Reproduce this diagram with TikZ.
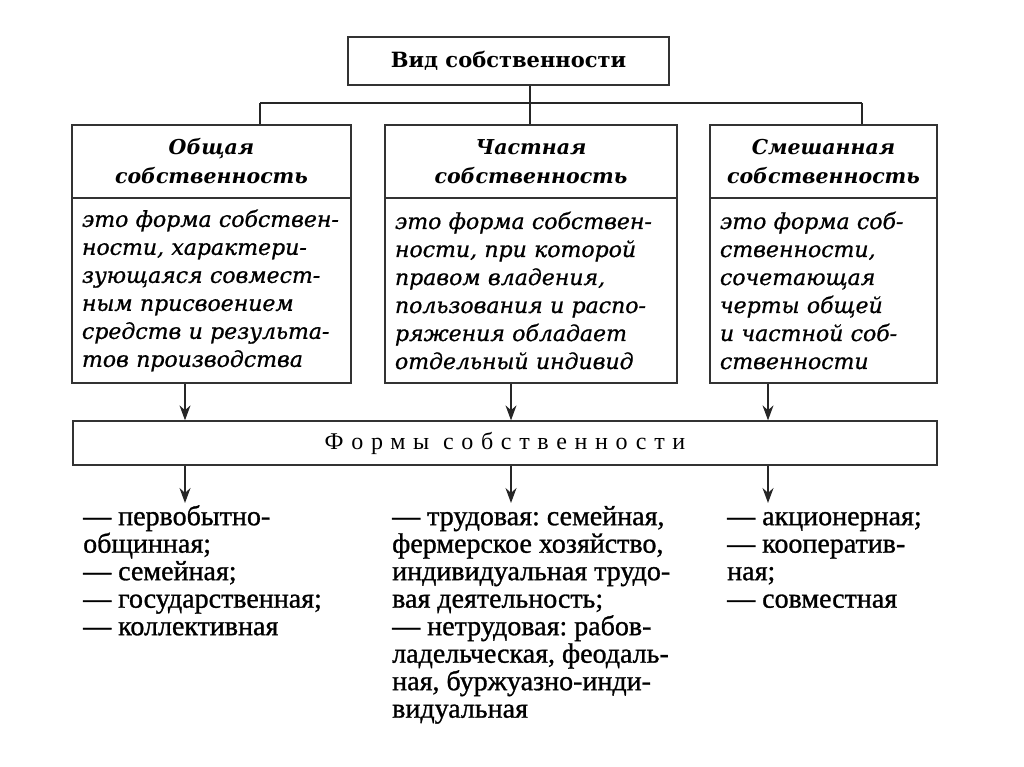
\documentclass[tikz,border=0pt]{standalone}
\usepackage{fontspec}
\setmainfont{DejaVu Serif}[ItalicFeatures={FakeBold=0.8}]
\newfontfamily\listfont{Liberation Serif}[FakeBold=1]
\newfontfamily\spacedfont[LetterSpace=32]{Liberation Serif}
\usetikzlibrary{arrows.meta}
\frenchspacing
\tikzstyle{vidbox} = [rectangle, draw=black!80, line width=1.3pt, minimum width=321pt, minimum height=48pt, font=\bfseries\fontsize{21}{24}\selectfont]
\tikzstyle{headbox} = [rectangle, draw=black!80, line width=1.3pt, minimum height=73pt, inner xsep=6pt, align=center, font=\bfseries\itshape\fontsize{20.5}{29}\selectfont]
\tikzstyle{bodybox} = [rectangle, draw=black!80, line width=1.3pt, minimum height=185pt, inner xsep=10pt, align=left, font=\itshape\fontsize{22}{28}\selectfont]
\tikzstyle{formsbox} = [rectangle, draw=black!80, line width=1.3pt, minimum width=864pt, minimum height=44pt, font=\spacedfont\fontsize{24}{26}\selectfont]
\tikzstyle{listtext} = [anchor=north west, inner sep=0pt, align=left, font=\listfont\fontsize{28}{27.5}\selectfont]
\tikzstyle{connector} = [line width=1.3pt, draw=black!85]
\tikzstyle{arrow} = [line width=1.3pt, draw=black!85, -{Stealth[length=15pt,width=11pt]}]
\newcommand{\topline}{\rule{0pt}{22pt}}

\begin{document}
\begin{tikzpicture}[node distance=129pt]
\useasboundingbox (0pt,0pt) rectangle (1024pt,-767pt);

\node (vid) [vidbox] at (508.5pt,-61pt) {Вид собственности};

\node (obsh) [headbox, text width=267pt] at (211.5pt,-161.5pt) {Общая\\собственность};
\node (obshdef) [bodybox, text width=259pt, below of=obsh] {это форма собствен-\\ности, характери-\\зующаяся совмест-\\ным присвоением\\средств и результа-\\тов производства};

\node (chast) [headbox, text width=280pt] at (531pt,-161.5pt) {Частная\\собственность};
\node (chastdef) [bodybox, text width=272pt, below of=chast] {это форма собствен-\\ности, при которой\\правом владения,\\пользования и распо-\\ряжения обладает\\отдельный индивид};

\node (smesh) [headbox, text width=215pt] at (823.5pt,-161.5pt) {Смешанная\\собственность};
\node (smeshdef) [bodybox, text width=207pt, below of=smesh] {это форма соб-\\ственности,\\сочетающая\\черты общей\\и частной соб-\\ственности};

\node (formy) [formsbox] at (505pt,-443pt) {Формы собственности};

\node (listL) [listtext] at (83pt,-503pt) {\topline— первобытно-\\общинная;\\— семейная;\\— государственная;\\— коллективная};
\node (listM) [listtext] at (392pt,-503pt) {\topline— трудовая: семейная,\\фермерское хозяйство,\\индивидуальная трудо-\\вая деятельность;\\— нетрудовая: рабов-\\ладельческая, феодаль-\\ная, буржуазно-инди-\\видуальная};
\node (listR) [listtext] at (727pt,-503pt) {\topline— акционерная;\\— кооператив-\\ная;\\— совместная};

% tree from the top box
\coordinate (junc) at (530pt,-103pt);
\coordinate (jL) at (260pt,-103pt);
\coordinate (jR) at (862pt,-103pt);
\draw [connector] (vid.south -| junc) -- (junc);
\draw [connector] (jL) -- (jR);
\draw [connector] (jL) -- (jL |- obsh.north);
\draw [connector] (junc) -- (junc |- chast.north);
\draw [connector] (jR) -- (jR |- smesh.north);

% arrows into and out of the forms box
\coordinate (aL) at (185pt,-503pt);
\coordinate (aM) at (511pt,-503pt);
\coordinate (aR) at (768pt,-503pt);
\draw [arrow] (obshdef.south -| aL) -- (formy.north -| aL);
\draw [arrow] (chastdef.south -| aM) -- (formy.north -| aM);
\draw [arrow] (smeshdef.south -| aR) -- (formy.north -| aR);
\draw [arrow] (formy.south -| aL) -- (aL);
\draw [arrow] (formy.south -| aM) -- (aM);
\draw [arrow] (formy.south -| aR) -- (aR);
\end{tikzpicture}
\end{document}
